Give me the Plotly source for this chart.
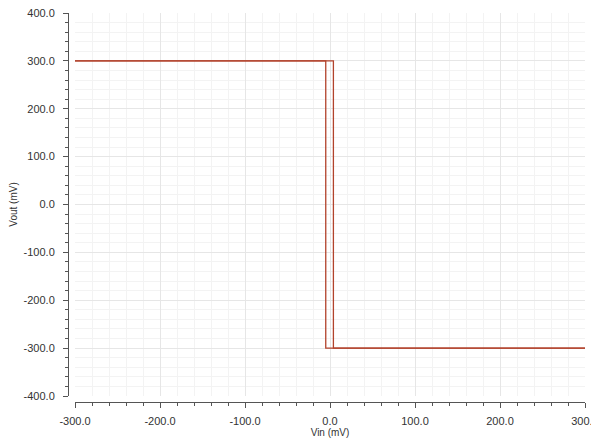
import plotly.graph_objects as go

# Data (mV)
fwd_x = [-300, 4, 4, 300]
fwd_y = [300, 300, -300, -300]
bwd_x = [300, -5, -5, -300]
bwd_y = [-300, -300, 300, 300]

tick_vals_x = [-300, -200, -100, 0, 100, 200, 300]
tick_vals_y = [-400, -300, -200, -100, 0, 100, 200, 300, 400]

W, H = 599, 442
ml, mr, mt, mb = 60, 22, 5, 48
pw, ph = W - ml - mr, H - mt - mb
dx = 7 / pw
dy = 6 / ph

line_color = "#b2432c"
fig = go.Figure()
fig.add_trace(go.Scatter(x=fwd_x, y=fwd_y, mode="lines",
                         line=dict(color=line_color, width=1.3), showlegend=False))
fig.add_trace(go.Scatter(x=bwd_x, y=bwd_y, mode="lines",
                         line=dict(color=line_color, width=1.3), showlegend=False))

font = dict(family="Liberation Sans, Arial, sans-serif", size=11, color="#333333")
fig.update_layout(
    width=W, height=H,
    margin=dict(l=ml, r=mr, t=mt, b=mb, autoexpand=False),
    paper_bgcolor="white", plot_bgcolor="white",
    font=font,
    xaxis=dict(domain=[dx, 1], range=[-300, 300], anchor="free", position=0,
               automargin=False, ticklabeloverflow="allow",
               tickvals=tick_vals_x, ticktext=[f"{v:.1f}" for v in tick_vals_x],
               ticklabelstandoff=4,
               showgrid=True, gridcolor="#e6e6e6", gridwidth=1,
               minor=dict(dtick=20, showgrid=True, gridcolor="#f3f3f3",
                          ticks="outside", ticklen=3, tickcolor="#555"),
               ticks="outside", ticklen=5, tickcolor="#555",
               showline=True, linecolor="#555", linewidth=1,
               zeroline=False,
               title=dict(text="Vin (mV)", standoff=0, font=dict(size=10))),
    yaxis=dict(domain=[dy, 1], range=[-400, 400], anchor="free", position=0,
               automargin=False, ticklabeloverflow="allow",
               tickvals=tick_vals_y, ticktext=[f"{v:.1f}" for v in tick_vals_y],
               ticklabelstandoff=6,
               showgrid=True, gridcolor="#e6e6e6", gridwidth=1,
               minor=dict(dtick=20, showgrid=True, gridcolor="#f3f3f3",
                          ticks="outside", ticklen=3, tickcolor="#555"),
               ticks="outside", ticklen=5, tickcolor="#555",
               showline=True, linecolor="#555", linewidth=1,
               zeroline=False,
               title=dict(text="Vout (mV)", standoff=8, font=dict(size=10))),
)
fig.write_html("out.html")
